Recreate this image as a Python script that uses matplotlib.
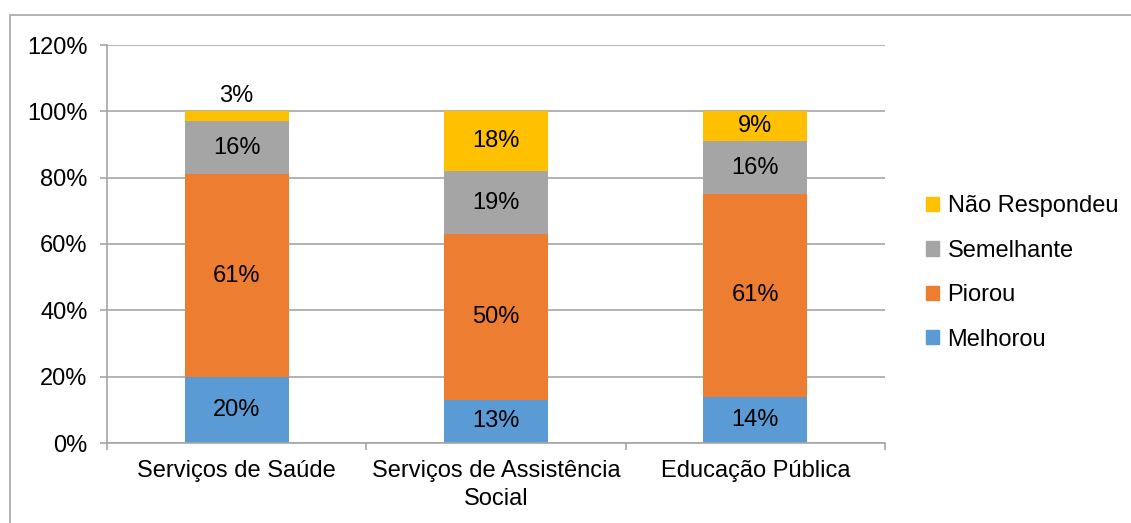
import matplotlib
matplotlib.use('Agg')
import matplotlib.pyplot as plt
from matplotlib.patches import Rectangle, Patch
from matplotlib.ticker import FixedLocator, PercentFormatter
import numpy as np

plt.rcParams['font.family'] = ['Liberation Sans', 'DejaVu Sans']

categories = ['Serviços de Saúde', 'Serviços de Assistência\nSocial', 'Educação Pública']
series_names = ['Melhorou', 'Piorou', 'Semelhante', 'Não Respondeu']
melhorou = [20, 13, 14]
piorou = [61, 50, 61]
semelhante = [16, 19, 16]
nao_respondeu = [3, 18, 9]
colors = ['#5B9BD5', '#ED7D31', '#A5A5A5', '#FFC000']

FS = 17

fig = plt.figure(figsize=(11.31, 5.23), dpi=100)
ax = fig.add_axes([107 / 1131, 1 - 443 / 523, (885 - 107) / 1131, (443 - 45) / 523])

# outer chart border
fig.patches.append(Rectangle((10 / 1131, -0.01), 1.1, 1 - 15 / 523 + 0.01, transform=fig.transFigure,
                             fill=False, edgecolor='#A6A6A6', linewidth=1.2))

x = np.arange(len(categories))
bottom = np.zeros(len(categories))
for name, vals, col in zip(series_names, [melhorou, piorou, semelhante, nao_respondeu], colors):
    vals = np.array(vals, dtype=float)
    ax.bar(x, vals, 0.4, bottom=bottom, color=col, label=name, zorder=2)
    for xi, b, v in zip(x, bottom, vals):
        if v < 5:
            ax.text(xi, b + v + 1.2, f'{v:.0f}%', ha='center', va='bottom', fontsize=FS)
        else:
            ax.text(xi, b + v / 2, f'{v:.0f}%', ha='center', va='center', fontsize=FS)
    bottom += vals

ax.set_xlim(-0.5, 2.5)
ax.set_ylim(0, 120)
ax.set_yticks(range(0, 121, 20))
ax.yaxis.set_major_formatter(PercentFormatter(decimals=0))
ax.grid(axis='y', color='#A6A6A6', linewidth=1.2, zorder=0)
ax.set_axisbelow(True)

ax.set_xticks(x)
ax.set_xticklabels(categories, fontsize=FS, multialignment='center', linespacing=1.35)
ax.xaxis.set_minor_locator(FixedLocator([-0.5, 0.5, 1.5, 2.5]))
ax.tick_params(axis='x', which='major', length=0, pad=12)
ax.tick_params(axis='x', which='minor', length=5, color='#A6A6A6', width=1.2)
ax.tick_params(axis='y', length=5, color='#A6A6A6', width=1.2, labelsize=FS, pad=9)

for s in ['top', 'right']:
    ax.spines[s].set_visible(False)
for s in ['left', 'bottom']:
    ax.spines[s].set_color('#A6A6A6')
    ax.spines[s].set_linewidth(1.2)

handles = [Patch(color=c) for c in colors][::-1]
leg = fig.legend(handles, series_names[::-1], loc='center left', bbox_to_anchor=(905 / 1131, 1 - 273 / 523),
                 frameon=False, fontsize=FS, handlelength=0.55, handleheight=0.55, handletextpad=0.35,
                 labelspacing=0.95)

fig.savefig('out.png', dpi=100)
